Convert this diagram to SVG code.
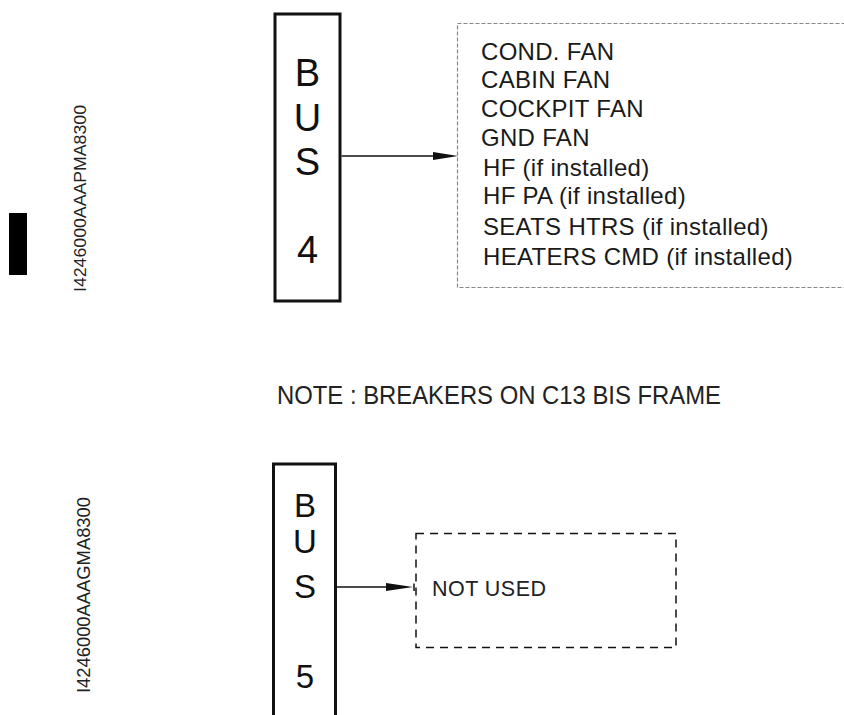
<svg xmlns="http://www.w3.org/2000/svg" width="844" height="715" viewBox="0 0 844 715">
<style>
.bus{fill:none;stroke:#111;stroke-width:3}
.busl{font-family:"Liberation Sans",Arial,sans-serif;fill:#111;text-anchor:middle}
.lst{font-family:"Liberation Sans",Arial,sans-serif;font-size:24px;fill:#1a1a1a;letter-spacing:0.3px}
.ref{font-family:"Liberation Sans",Arial,sans-serif;fill:#222}
.conn{stroke:#111;stroke-width:1.5;fill:none}
</style>
<rect width="844" height="715" fill="#fff"/>
<g id="side-labels">
<rect x="9" y="213" width="18" height="62" fill="#000"/>
<text class="ref" font-size="17" fill="#333" transform="translate(86,292) rotate(-90)" textLength="187" lengthAdjust="spacingAndGlyphs">I4246000AAAPMA8300</text>
<text class="ref" font-size="18" transform="translate(90,693) rotate(-90)" textLength="196" lengthAdjust="spacingAndGlyphs">I4246000AAAGMA8300</text>
</g>
<g id="bus4">
<rect class="bus" x="275" y="14" width="65" height="287"/>
<text class="busl" font-size="38" x="307.5" y="86">B</text>
<text class="busl" font-size="38" x="307.5" y="131">U</text>
<text class="busl" font-size="38" x="307.5" y="175">S</text>
<text class="busl" font-size="38" x="307.5" y="263">4</text>
</g>
<g id="loads4">
<rect x="457.5" y="23.5" width="420" height="264" fill="none" stroke="#888" stroke-width="1.2" stroke-dasharray="4 2"/>
<text class="lst" x="481" y="60">COND. FAN</text>
<text class="lst" x="481" y="88">CABIN FAN</text>
<text class="lst" x="481" y="117">COCKPIT FAN</text>
<text class="lst" x="481" y="146">GND FAN</text>
<text class="lst" x="483" y="176">HF (if installed)</text>
<text class="lst" x="483" y="204">HF PA (if installed)</text>
<text class="lst" x="483" y="235">SEATS HTRS (if installed)</text>
<text class="lst" x="483" y="265">HEATERS CMD (if installed)</text>
</g>
<g id="note">
<text class="ref" font-size="25" x="277" y="404" fill="#111" textLength="444" lengthAdjust="spacingAndGlyphs">NOTE : BREAKERS ON C13 BIS FRAME</text>
</g>
<g id="bus5">
<path class="bus" d="M273.5,717 V464 H335.5 V717"/>
<text class="busl" font-size="33" x="305" y="517">B</text>
<text class="busl" font-size="33" x="305" y="553">U</text>
<text class="busl" font-size="33" x="305" y="598">S</text>
<text class="busl" font-size="33" x="305" y="688">5</text>
</g>
<g id="loads5">
<rect x="416" y="533.5" width="260" height="114" fill="none" stroke="#111" stroke-width="1.5" stroke-dasharray="8 6"/>
<text class="ref" font-size="21.5" x="432" y="596" fill="#111" textLength="114" lengthAdjust="spacing">NOT USED</text>
</g>
<g id="connectors">
<line class="conn" x1="341.5" y1="156" x2="434" y2="156"/>
<polygon points="433,152 458,156 433,160" fill="#111"/>
<line class="conn" x1="337" y1="587" x2="387" y2="587"/>
<polygon points="386,583 413,587 386,591" fill="#111"/>
<line class="conn" x1="414" y1="583.5" x2="414" y2="591"/>
</g>
</svg>
